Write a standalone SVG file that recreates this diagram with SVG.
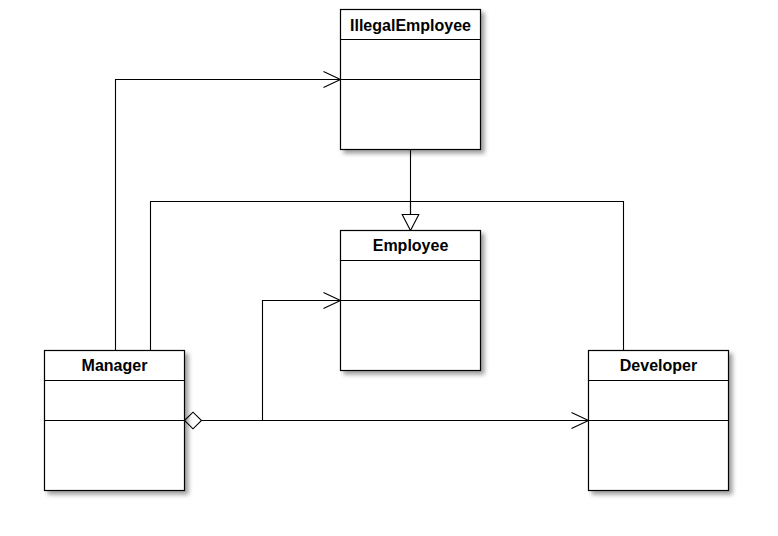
<svg xmlns="http://www.w3.org/2000/svg" width="778" height="536" viewBox="0 0 778 536">
<style>
.box{fill:#fff;stroke:#000;stroke-width:1.2}
.sep{stroke:#000;stroke-width:1.2;fill:none}
.title{font-family:"Liberation Sans",Arial,sans-serif;font-size:16px;font-weight:bold;fill:#000;text-anchor:middle}
.edge{fill:none;stroke:#000;stroke-width:1.1}
</style>
<defs>
<filter id="shadow" x="-10%" y="-10%" width="130%" height="130%">
<feDropShadow dx="3.5" dy="3.5" stdDeviation="2" flood-color="#000" flood-opacity="0.38"/>
</filter>
<marker id="open" markerUnits="userSpaceOnUse" orient="auto" overflow="visible" markerWidth="20" markerHeight="20" viewBox="-20 -10 20 20" refX="0" refY="0">
<path d="M-17,-8 L0,0 L-17,8" fill="none" stroke="#000" stroke-width="1.1"/>
</marker>
<marker id="tri" markerUnits="userSpaceOnUse" orient="auto" overflow="visible" markerWidth="20" markerHeight="20" viewBox="-20 -10 20 20" refX="0" refY="0">
<path d="M-16,-8.3 L0,0 L-16,8.3 Z" fill="#fff" stroke="#000" stroke-width="1.1"/>
</marker>
<marker id="diamond" markerUnits="userSpaceOnUse" orient="auto" overflow="visible" markerWidth="20" markerHeight="20" viewBox="0 -10 20 20" refX="0" refY="0">
<path d="M0,0 L8.5,-8.3 L17,0 L8.5,8.3 Z" fill="#fff" stroke="#000" stroke-width="1.1"/>
</marker>
</defs>

<g id="connectors">
<path class="edge" d="M115.5,350.5 V79.5 H340.5" marker-end="url(#open)"/>
<path class="edge" d="M150.5,350.5 V201.5 H623.5 V350.5"/>
<path class="edge" d="M410.5,149.5 V214.5"/>
<path class="edge" d="M410.5,201.5 V230.5" marker-end="url(#tri)"/>
<path class="edge" d="M184.5,420.5 H262.5 V300.5 H340.5" marker-start="url(#diamond)" marker-end="url(#open)"/>
<path class="edge" d="M201.5,420.5 H588.5" marker-end="url(#open)"/>
</g>

<g id="IllegalEmployee">
<rect class="box" x="340.5" y="9.5" width="140" height="140" filter="url(#shadow)"/>
<line class="sep" x1="340.5" y1="39.5" x2="480.5" y2="39.5"/>
<line class="sep" x1="340.5" y1="79.5" x2="480.5" y2="79.5"/>
<text class="title" x="410.5" y="30.5" textLength="121" lengthAdjust="spacing">IllegalEmployee</text>
</g>

<g id="Employee">
<rect class="box" x="340.5" y="230.5" width="140" height="140" filter="url(#shadow)"/>
<line class="sep" x1="340.5" y1="260.5" x2="480.5" y2="260.5"/>
<line class="sep" x1="340.5" y1="300.5" x2="480.5" y2="300.5"/>
<text class="title" x="410.5" y="251">Employee</text>
</g>

<g id="Manager">
<rect class="box" x="44.5" y="350.5" width="140" height="140" filter="url(#shadow)"/>
<line class="sep" x1="44.5" y1="380.5" x2="184.5" y2="380.5"/>
<line class="sep" x1="44.5" y1="420.5" x2="184.5" y2="420.5"/>
<text class="title" x="114.5" y="371">Manager</text>
</g>

<g id="Developer">
<rect class="box" x="588.5" y="350.5" width="140" height="140" filter="url(#shadow)"/>
<line class="sep" x1="588.5" y1="380.5" x2="728.5" y2="380.5"/>
<line class="sep" x1="588.5" y1="420.5" x2="728.5" y2="420.5"/>
<text class="title" x="658.5" y="371">Developer</text>
</g>
</svg>
